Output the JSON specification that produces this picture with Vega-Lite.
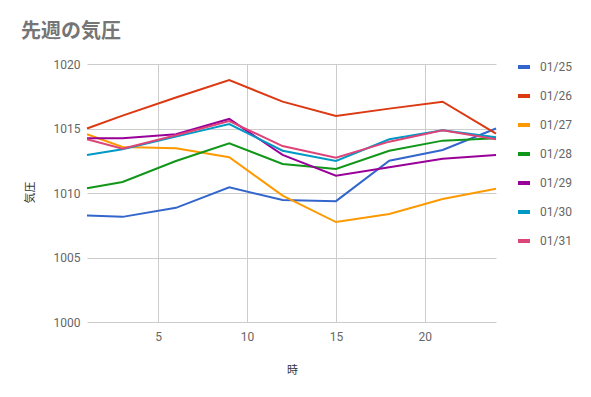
{
  "$schema": "https://vega.github.io/schema/vega-lite/v6.json",
  "autosize": "none",
  "width": 409,
  "height": 258,
  "padding": {"left": 87, "top": 64, "right": 95, "bottom": 75},
  "background": "white",
  "config": {
    "font": "Roboto",
    "view": {"stroke": null},
    "axis": {"domain": false, "ticks": false, "gridColor": "#cccccc", "labelColor": "#666666", "labelFontSize": 12, "titleColor": "#333333", "titleFontSize": 11, "titleFontWeight": "normal", "titleFont": "Noto Sans CJK JP"}
  },
  "title": {"text": "先週の気圧", "anchor": "start", "frame": "group", "dx": -66, "dy": 25, "offset": 21, "baseline": "bottom", "font": "Noto Sans CJK JP", "fontSize": 20, "fontWeight": "bold", "color": "#757575"},
  "data": {"values": [
    {"d":"01/25","h":1,"p":1008.25},{"d":"01/25","h":3,"p":1008.15},{"d":"01/25","h":6,"p":1008.85},{"d":"01/25","h":9,"p":1010.45},{"d":"01/25","h":12,"p":1009.45},{"d":"01/25","h":15,"p":1009.37},{"d":"01/25","h":18,"p":1012.5},{"d":"01/25","h":21,"p":1013.33},{"d":"01/25","h":24,"p":1015.0},
    {"d":"01/26","h":1,"p":1015.0},{"d":"01/26","h":3,"p":1016.0},{"d":"01/26","h":6,"p":1017.4},{"d":"01/26","h":9,"p":1018.76},{"d":"01/26","h":12,"p":1017.08},{"d":"01/26","h":15,"p":1015.97},{"d":"01/26","h":18,"p":1016.54},{"d":"01/26","h":21,"p":1017.08},{"d":"01/26","h":24,"p":1014.6},
    {"d":"01/27","h":1,"p":1014.55},{"d":"01/27","h":3,"p":1013.57},{"d":"01/27","h":6,"p":1013.46},{"d":"01/27","h":9,"p":1012.77},{"d":"01/27","h":12,"p":1009.8},{"d":"01/27","h":15,"p":1007.75},{"d":"01/27","h":18,"p":1008.37},{"d":"01/27","h":21,"p":1009.53},{"d":"01/27","h":24,"p":1010.33},
    {"d":"01/28","h":1,"p":1010.36},{"d":"01/28","h":3,"p":1010.85},{"d":"01/28","h":6,"p":1012.48},{"d":"01/28","h":9,"p":1013.85},{"d":"01/28","h":12,"p":1012.25},{"d":"01/28","h":15,"p":1011.86},{"d":"01/28","h":18,"p":1013.28},{"d":"01/28","h":21,"p":1014.06},{"d":"01/28","h":24,"p":1014.24},
    {"d":"01/29","h":1,"p":1014.24},{"d":"01/29","h":3,"p":1014.24},{"d":"01/29","h":6,"p":1014.55},{"d":"01/29","h":9,"p":1015.74},{"d":"01/29","h":12,"p":1012.95},{"d":"01/29","h":15,"p":1011.34},{"d":"01/29","h":18,"p":1012.0},{"d":"01/29","h":21,"p":1012.66},{"d":"01/29","h":24,"p":1012.95},
    {"d":"01/30","h":1,"p":1012.95},{"d":"01/30","h":3,"p":1013.39},{"d":"01/30","h":6,"p":1014.37},{"d":"01/30","h":9,"p":1015.35},{"d":"01/30","h":12,"p":1013.28},{"d":"01/30","h":15,"p":1012.48},{"d":"01/30","h":18,"p":1014.16},{"d":"01/30","h":21,"p":1014.86},{"d":"01/30","h":24,"p":1014.32},
    {"d":"01/31","h":1,"p":1014.16},{"d":"01/31","h":3,"p":1013.44},{"d":"01/31","h":6,"p":1014.47},{"d":"01/31","h":9,"p":1015.58},{"d":"01/31","h":12,"p":1013.64},{"d":"01/31","h":15,"p":1012.74},{"d":"01/31","h":18,"p":1013.98},{"d":"01/31","h":21,"p":1014.86},{"d":"01/31","h":24,"p":1014.16}
  ]},
  "mark": {"type": "line", "strokeWidth": 2},
  "encoding": {
    "x": {"field": "h", "type": "quantitative", "scale": {"domain": [1, 24], "nice": false, "zero": false},
      "axis": {"values": [5, 10, 15, 20], "title": "時", "labelPadding": 9, "titleX": 205, "titleY": 48, "titleBaseline": "middle", "titleAnchor": null}},
    "y": {"field": "p", "type": "quantitative", "scale": {"domain": [1000, 1020], "nice": false, "zero": false},
      "axis": {"values": [1000, 1005, 1010, 1015, 1020], "format": "d", "title": "気圧", "labelPadding": 7, "titleX": -57, "titleY": 128, "titleAngle": -90, "titleBaseline": "middle", "titleAlign": "center"}},
    "color": {"field": "d", "type": "nominal", "title": null,
      "scale": {"range": ["#3366cc", "#dc3912", "#ff9900", "#109618", "#990099", "#0099c6", "#dd4477"]},
      "legend": {"orient": "none", "legendX": 429, "legendY": -5, "symbolType": "stroke", "symbolSize": 144, "symbolStrokeWidth": 4, "labelFontSize": 12, "labelColor": "#666666", "rowPadding": 13, "labelOffset": 8}}
  }
}
